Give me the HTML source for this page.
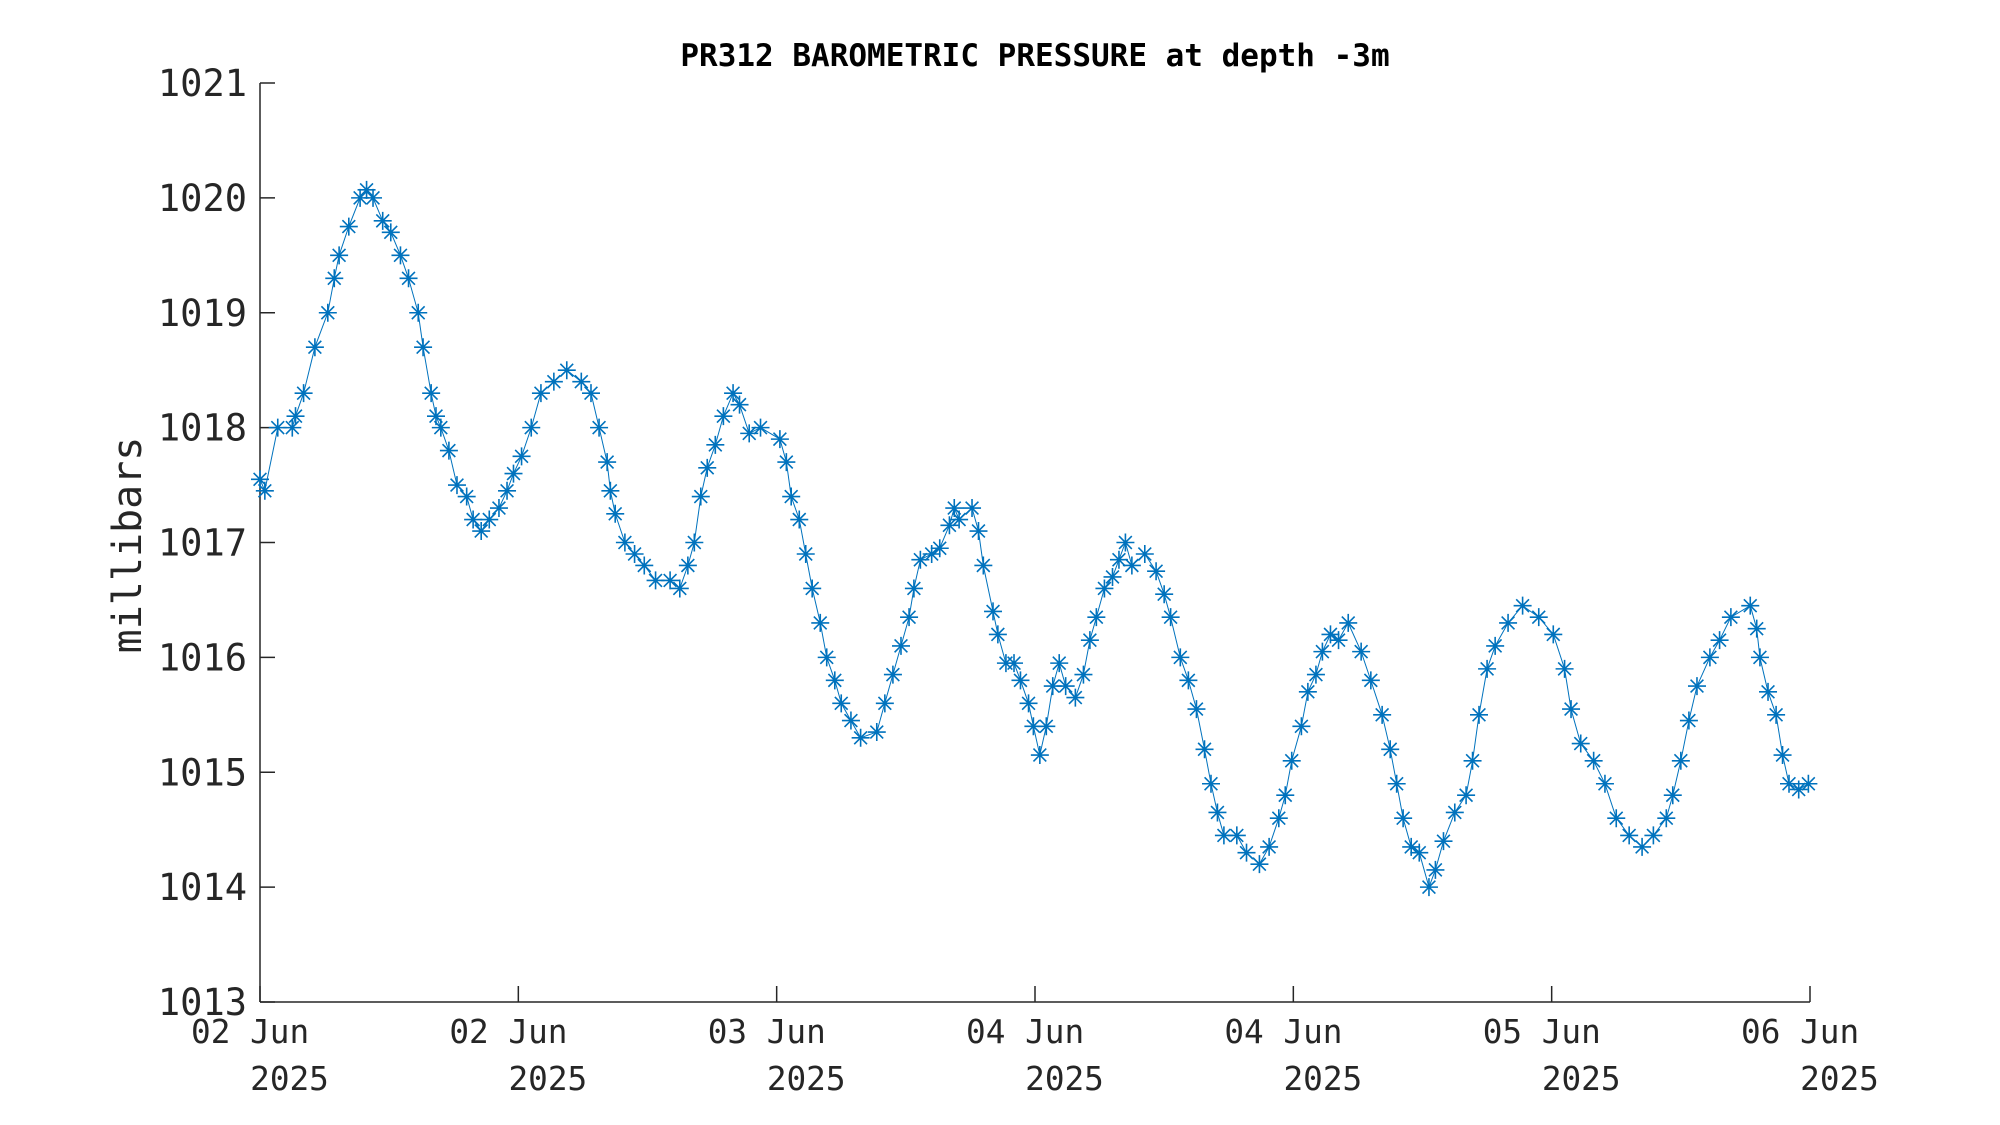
<!DOCTYPE html>
<html><head><meta charset="utf-8"><style>
html,body{margin:0;padding:0;background:#fff;}
svg{display:block;}
</style></head><body>
<svg id="chart" width="2000" height="1125" xmlns="http://www.w3.org/2000/svg">
<rect width="2000" height="1125" fill="#fff"/>
<text x="1035" y="66" text-anchor="middle" font-family="DejaVu Sans Mono, Liberation Mono, monospace" font-weight="bold" font-size="31" fill="#000">PR312 BAROMETRIC PRESSURE at depth -3m</text>
<text transform="translate(141,545) rotate(-90)" text-anchor="middle" font-family="DejaVu Sans Mono, Liberation Mono, monospace" font-size="40" fill="#262626">millibars</text>
<g id="axes"></g>
<g id="series"></g>
</svg>
<script>
const hours = [0,0.3,1.1,2.0,2.2,2.7,3.4,4.2,4.6,4.9,5.5,6.2,6.6,7.0,7.6,8.1,8.7,9.2,9.8,10.1,10.6,10.9,11.2,11.7,12.2,12.8,13.2,13.7,14.2,14.8,15.3,15.7,16.2,16.8,17.4,18.2,19.0,19.9,20.5,21.0,21.5,21.7,22.0,22.6,23.2,23.8,24.5,25.4,26.0,26.5,26.9,27.3,27.7,28.2,28.7,29.3,29.7,30.3,31.0,32.2,32.6,32.9,33.4,33.8,34.2,34.7,35.1,35.6,36.0,36.6,37.2,38.2,38.7,39.2,39.7,40.2,40.5,40.9,41.6,42.1,42.7,43.0,43.3,44.1,44.5,44.8,45.4,45.7,46.2,46.7,47.1,47.6,47.9,48.3,48.7,49.1,49.5,49.9,50.5,51.0,51.4,51.8,52.3,52.8,53.2,53.6,54.0,54.8,55.5,56.0,56.4,57.0,57.5,58.0,58.5,58.9,59.3,59.7,60.5,61.1,61.9,62.5,63.1,63.5,63.9,64.5,64.9,65.4,65.8,66.3,66.8,67.4,68.2,68.8,69.5,70.0,70.4,70.8,71.3,71.8,72.4,72.8,73.3,74.0,74.7,75.1,75.5,76.0,76.5,77.3,78.2,79.2,80.1,80.8,81.2,81.8,82.6,83.3,84.0,84.8,85.6,86.3,87.1,87.5,88.0,88.5,89.0,89.8,90.4,91.1,92.3,92.7,92.9,93.4,93.9,94.3,94.7,95.3,95.9];
const pressure = [1017.55,1017.45,1018.0,1018.0,1018.1,1018.3,1018.7,1019.0,1019.3,1019.5,1019.75,1020.0,1020.07,1020.0,1019.8,1019.7,1019.5,1019.3,1019.0,1018.7,1018.3,1018.1,1018.0,1017.8,1017.5,1017.4,1017.2,1017.1,1017.2,1017.3,1017.45,1017.6,1017.75,1018.0,1018.3,1018.4,1018.5,1018.4,1018.3,1018.0,1017.7,1017.45,1017.25,1017.0,1016.9,1016.8,1016.67,1016.67,1016.6,1016.8,1017.0,1017.4,1017.65,1017.85,1018.1,1018.3,1018.2,1017.95,1018.0,1017.9,1017.7,1017.4,1017.2,1016.9,1016.6,1016.3,1016.0,1015.8,1015.6,1015.45,1015.3,1015.35,1015.6,1015.85,1016.1,1016.35,1016.6,1016.85,1016.9,1016.95,1017.15,1017.3,1017.2,1017.3,1017.1,1016.8,1016.4,1016.2,1015.95,1015.95,1015.8,1015.6,1015.4,1015.15,1015.4,1015.75,1015.95,1015.75,1015.65,1015.85,1016.15,1016.35,1016.6,1016.7,1016.85,1017.0,1016.8,1016.9,1016.75,1016.55,1016.35,1016.0,1015.8,1015.55,1015.2,1014.9,1014.65,1014.45,1014.45,1014.3,1014.2,1014.35,1014.6,1014.8,1015.1,1015.4,1015.7,1015.85,1016.05,1016.2,1016.15,1016.3,1016.05,1015.8,1015.5,1015.2,1014.9,1014.6,1014.35,1014.3,1014.0,1014.15,1014.4,1014.65,1014.8,1015.1,1015.5,1015.9,1016.1,1016.3,1016.45,1016.35,1016.2,1015.9,1015.55,1015.25,1015.1,1014.9,1014.6,1014.45,1014.35,1014.45,1014.6,1014.8,1015.1,1015.45,1015.75,1016.0,1016.15,1016.35,1016.45,1016.25,1016.0,1015.7,1015.5,1015.15,1014.9,1014.85,1014.9];
const yTicks = [1013,1014,1015,1016,1017,1018,1019,1020,1021];
const xTickHours = [0,16,32,48,64,80,96];
const xTickLabels = ["02 Jun","02 Jun","03 Jun","04 Jun","04 Jun","05 Jun","06 Jun"];
const xTickYear = ["2025","2025","2025","2025","2025","2025","2025"];

const L=260,R=1810,T=83,B=1002;
const xMin=0,xMax=96,yMin=1013,yMax=1021;
const sx=h=>L+(h-xMin)/(xMax-xMin)*(R-L);
const sy=v=>B-(v-yMin)/(yMax-yMin)*(B-T);
const NS="http://www.w3.org/2000/svg";
function mk(tag,attrs,parent){const e=document.createElementNS(NS,tag);for(const k in attrs)e.setAttribute(k,attrs[k]);parent.appendChild(e);return e;}
const axes=document.getElementById('axes');
const series=document.getElementById('series');
const FONT="DejaVu Sans Mono, Liberation Mono, monospace";

const yl=mk('line',{x1:L,y1:T,x2:L,y2:B,stroke:'#262626','stroke-width':1.5},axes);


const xl=mk('line',{x1:L,y1:B,x2:R,y2:B,stroke:'#262626','stroke-width':1.5},axes);



yTicks.forEach(v=>{
  const y=sy(v);
  const t=mk('line',{x1:L,y1:y,x2:L+15,y2:y,stroke:'#262626','stroke-width':1.5},axes);
  
  
  const tx=mk('text',{x:L-13,y:y+13,'text-anchor':'end','font-family':FONT,'font-size':37,fill:'#262626'},axes);
  
  
  tx.textContent=String(v);
});
xTickHours.forEach((h,i)=>{
  const x=sx(h);
  const t=mk('line',{x1:x,y1:B,x2:x,y2:B-16,stroke:'#262626','stroke-width':1.5},axes);
  
  
  const cw=19.7, left=x-cw*3.5;
  const a=mk('text',{x:left,y:1043,'font-family':FONT,'font-size':32.7,fill:'#262626'},axes);
  
  
  a.textContent=xTickLabels[i];
  const b=mk('text',{x:left+cw*3,y:1090,'font-family':FONT,'font-size':32.7,fill:'#262626'},axes);
  
  
  b.textContent=xTickYear[i];
});

const pts=hours.map((h,i)=>sx(h).toFixed(1)+','+sy(pressure[i]).toFixed(1)).join(' ');
const line=mk('polyline',{points:pts,fill:'none',stroke:'#0072BD','stroke-width':1},series);


hours.forEach((h,i)=>{
  const x=sx(h),y=sy(pressure[i]),r=9,d=6.4;
  const p=mk('path',{d:`M${x-r},${y}H${x+r}M${x},${y-r}V${y+r}M${x-d},${y-d}L${x+d},${y+d}M${x-d},${y+d}L${x+d},${y-d}`,stroke:'#0072BD','stroke-width':1.6,fill:'none'},series);
  
  
});
</script>
</body></html>
